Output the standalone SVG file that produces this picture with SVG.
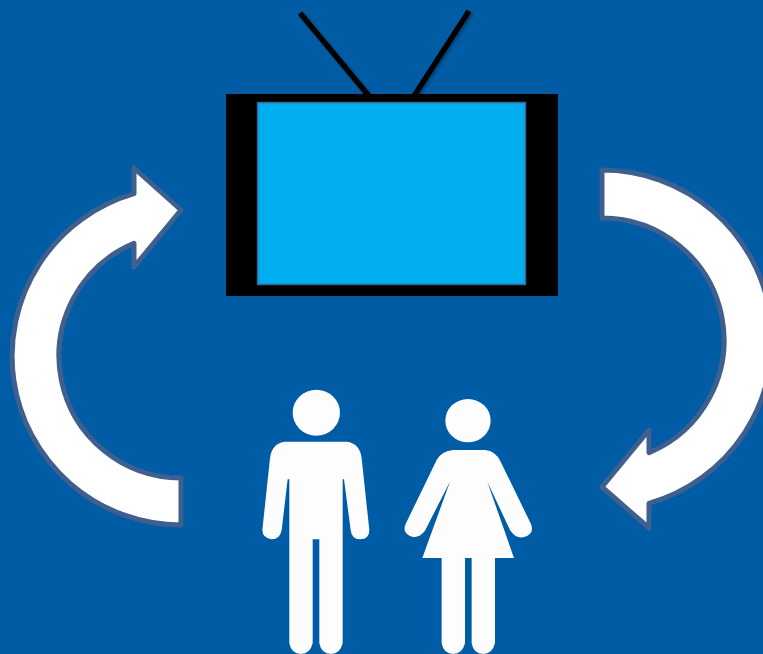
<svg xmlns="http://www.w3.org/2000/svg" width="763" height="654" viewBox="0 0 763 654">
<style>
.arrow{fill:#fff;stroke:#3f5f8f;stroke-width:5;stroke-linejoin:round}
.person{fill:#fdfdfd}
.antenna{stroke:#000;stroke-width:5.500;fill:none;filter:url(#sh)}
</style>
<defs>
<filter id="sh" x="-30%" y="-30%" width="160%" height="160%"><feDropShadow dx="2" dy="2" stdDeviation="1.500" flood-color="#000" flood-opacity="0.3"/></filter>
</defs>
<rect width="763" height="654" fill="#005da5"/>
<g id="tv">
<line class="antenna" x1="300" y1="13" x2="369" y2="96"/>
<line class="antenna" x1="469" y1="11" x2="414" y2="96"/>
<rect x="226" y="94" width="332" height="202" fill="#000"/>
<rect x="257.500" y="102.500" width="268" height="182" fill="#00aeef" stroke="#3f5f8f" stroke-width="1.500"/>
</g>
<g id="connectors">
<path id="arrow-left" class="arrow" d="M181,478 A122,122 0 0 1 134,243.400 V267 L181,210 L134,168 V193.700 A169,169 0 0 0 181,525 Z"/>
<path id="arrow-right" class="arrow" d="M602,218 A122,122 0 0 1 649,452.600 V430 L602,487 L649,528 V503.400 A170,170 0 0 0 602,170 Z"/>
</g>
<g id="man" transform="translate(250 380) scale(0.3333)">
<ellipse class="person" cx="199" cy="98" rx="71" ry="69"/>
<path class="person" d="M105,185 H290 Q330,190 335,235 L358,450 Q358,478 330,478 Q305,478 302,450 L282,298 H278 V790 Q270,822 243,822 Q214,822 208,790 V478 H188 V790 Q180,822 153,822 Q124,822 118,790 V298 H113 L95,450 Q90,478 65,478 Q38,475 37,450 L60,235 Q65,190 105,185 Z"/>
</g>
<g id="woman" transform="translate(250 380) scale(0.3333)">
<ellipse class="person" cx="654" cy="122" rx="68" ry="65"/>
<path class="person" d="M610,210 H705 Q738,213 752,245 L843,432 Q855,462 820,472 Q795,475 780,450 L712,305 L792,534 H735 V790 Q727,822 700,822 Q671,822 665,790 V534 H645 V790 Q637,822 610,822 Q581,822 575,790 V534 H517 L600,305 L525,452 Q505,478 480,468 Q455,455 468,430 L560,240 Q575,213 610,210 Z"/>
</g>
</svg>
